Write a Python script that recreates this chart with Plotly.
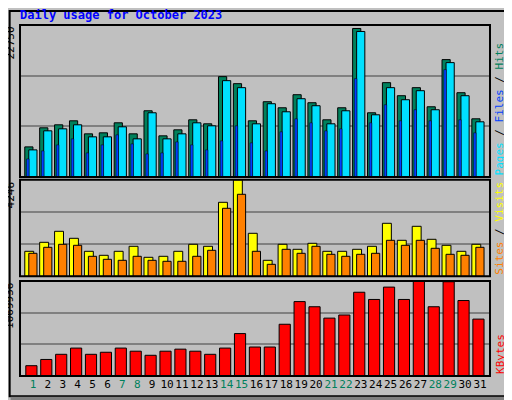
import plotly.graph_objects as go

days = list(range(1, 32))
weekend = [1, 7, 8, 14, 15, 21, 22, 28, 29]

hits = [4505, 7360, 7810, 8410, 6460, 6610, 8110, 6460, 9910, 6160, 7060, 8560, 7960, 15020, 13970, 8410,
        11265, 10360, 12315, 11115, 8560, 10360, 22230, 9610, 14120, 12165, 13370, 10510, 17570, 12615, 8710]
files = [4055, 6910, 7210, 7810, 6010, 6010, 7510, 5710, 9610, 5710, 6460, 8110, 7660, 14420, 13370, 7960,
         10965, 9760, 11715, 10665, 7960, 9910, 21780, 9310, 13370, 11565, 12915, 10065, 17120, 12165, 8260]
pages = [2700, 3905, 4805, 5710, 3605, 4805, 6310, 4955, 3455, 3605, 5255, 4805, 4055, 5405, 7660, 5105,
         3905, 6760, 8710, 8110, 6910, 7210, 14720, 8110, 10815, 8410, 10065, 8410, 16070, 8560, 6610]
sites = [1100, 1496, 1980, 1672, 1100, 924, 1100, 1320, 836, 880, 1100, 1408, 1320, 3256, 4246, 1892,
         704, 1408, 1188, 1452, 1100, 1100, 1188, 1320, 2332, 1584, 2200, 1628, 1364, 1100, 1408]
visits = [1012, 1276, 1408, 1364, 880, 748, 704, 880, 704, 660, 660, 880, 1144, 2992, 3608, 1100,
          528, 1188, 1012, 1320, 968, 880, 968, 1012, 1584, 1364, 1584, 1232, 968, 924, 1276]
kbytes = [116000, 186000, 244000, 314000, 244000, 267000, 314000, 279000, 233000, 279000, 302000, 279000,
          244000, 314000, 477000, 326000, 326000, 582000, 837000, 779000, 651000, 686000, 942000, 861000,
          1000000, 861000, 1069936, 779000, 1060000, 849000, 640000]

max_hits = 22750
max_sites = 4246
max_kb = 1069936

BG = "#c0c0c0"
GRID = "#808080"
FONT = "DejaVu Sans Mono"
line = dict(color="black", width=1)

fig = go.Figure()

def bars(y, color, off, w, xa, ya, lw=1):
    fig.add_trace(go.Bar(x=days, y=y, offset=off, width=w,
                         marker=dict(color=color, line=dict(color="black", width=lw)),
                         xaxis=xa, yaxis=ya, showlegend=False, hoverinfo="skip"))

bars(hits, "#00805c", -0.55, 0.55, "x", "y")
bars(files, "#00e0ff", -0.28, 0.55, "x", "y")
bars(pages, "#0040ff", -0.43, 0.17, "x", "y", lw=0.5)
bars(sites, "#ffff00", -0.55, 0.6, "x2", "y2")
bars(visits, "#ff8000", -0.28, 0.55, "x2", "y2")
bars(kbytes, "#ff0000", -0.48, 0.75, "x3", "y3")

xr = [0.13, 31.67]
ax_common = dict(range=xr, showgrid=False, zeroline=False, showline=False, fixedrange=True)
ticktext = [f"<span style='color:#00805c'>{d}</span>" if d in weekend else str(d) for d in days]

# page body adds 8px offset, so figure is 504x392
fig.update_layout(
    width=504, height=392, barmode="overlay",
    paper_bgcolor=BG, plot_bgcolor=BG,
    margin=dict(l=12, r=22, t=17, b=24),
    font=dict(family=FONT, size=11, color="black"),
    xaxis=dict(**ax_common, anchor="y", showticklabels=False),
    xaxis2=dict(**ax_common, anchor="y2", showticklabels=False),
    xaxis3=dict(**ax_common, anchor="y3", tickvals=days, ticktext=ticktext, ticks="", tickangle=0,
                automargin=False, tickfont=dict(size=11, family=FONT)),
    yaxis=dict(domain=[0.567, 1], range=[0, max_hits], tickvals=[max_hits / 3, max_hits * 2 / 3],
               showticklabels=False, gridcolor=GRID, gridwidth=1.5, zeroline=False),
    yaxis2=dict(domain=[0.284, 0.559], range=[0, max_sites], tickvals=[max_sites / 3, max_sites * 2 / 3],
                showticklabels=False, gridcolor=GRID, gridwidth=1.5, zeroline=False),
    yaxis3=dict(domain=[0, 0.271], range=[0, max_kb], tickvals=[max_kb / 3, max_kb * 2 / 3],
                showticklabels=False, gridcolor=GRID, gridwidth=1.5, zeroline=False),
)

# panel frames
for ya in ["y", "y2", "y3"]:
    fig.add_shape(type="rect", xref="x domain", yref=f"{ya} domain", x0=0, x1=1, y0=0, y1=1,
                  line=dict(color="black", width=2))
# outer 3D border
fig.add_shape(type="rect", xref="paper", yref="paper", x0=-0.022, x1=1.032, y0=-0.058, y1=1.04,
              line=dict(color="black", width=2))
fig.add_shape(type="line", xref="paper", yref="paper", x0=1.04, x1=1.04, y0=-0.065, y1=1.03,
              line=dict(color="#808080", width=5))
fig.add_shape(type="line", xref="paper", yref="paper", x0=-0.02, x1=1.04, y0=-0.066, y1=-0.066,
              line=dict(color="#808080", width=5))

fig.add_annotation(text="<b>Daily usage for October 2023</b>", xref="paper", yref="paper", x=-0.004, y=1.028,
                   xanchor="left", yanchor="middle", showarrow=False, font=dict(color="#0000ff", size=12))

# left max labels
for ya, txt in [("y", "22750"), ("y2", "4246"), ("y3", "1069936")]:
    fig.add_annotation(text=txt, xref="paper", yref=f"{ya} domain", x=-0.003, y=1, xanchor="right",
                       yanchor="top", textangle=-90, showarrow=False, font=dict(size=11))

# right legends
legends = [
    ("y", "<span style='color:#00e0ff'>Pages</span> / <span style='color:#0040ff'>Files</span>"
          " / <span style='color:#00805c'>Hits</span>"),
    ("y2", "<span style='color:#ff8000'>Sites</span> / <span style='color:#ffff00'>Visits</span>"),
    ("y3", "<span style='color:#ff0000'>KBytes</span>"),
]
for ya, txt in legends:
    fig.add_annotation(text=txt, xref="paper", yref=f"{ya} domain", x=1.003, y=0, xanchor="left",
                       yanchor="bottom", textangle=-90, showarrow=False, font=dict(size=11))

fig.write_html("out.html")
